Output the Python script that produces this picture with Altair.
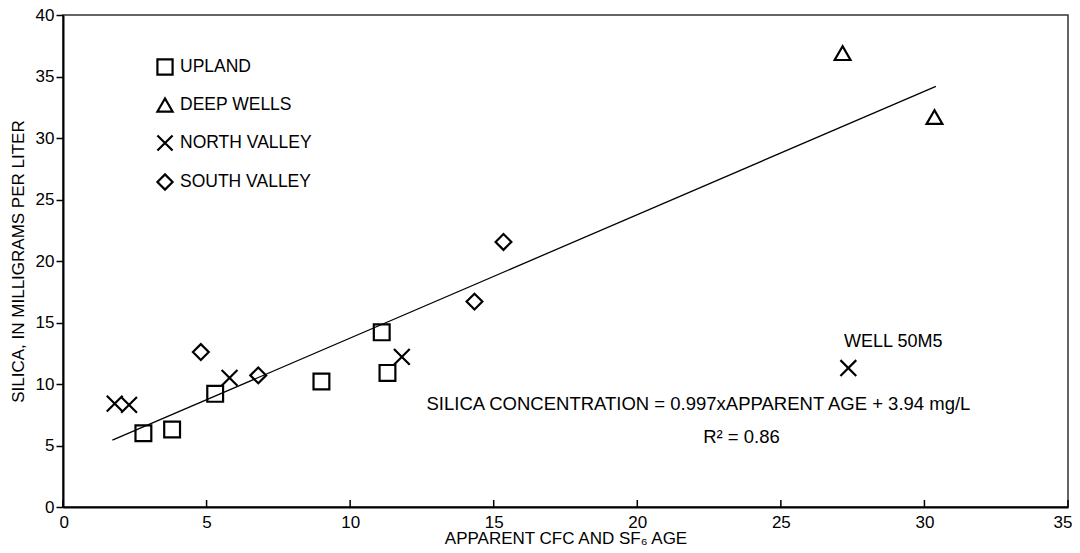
import altair as alt
import pandas as pd

# ---- data ----
groups = ["UPLAND", "DEEP WELLS", "NORTH VALLEY", "SOUTH VALLEY"]
shapes = ["square", "triangle-up", "M-1,-1L1,1M-1,1L1,-1", "diamond"]

upland_x = [2.8, 3.8, 5.3, 9.0, 11.1, 11.3]
upland_y = [6.0, 6.3, 9.2, 10.2, 14.2, 10.9]
deep_x = [27.15, 30.35]
deep_y = [36.9, 31.7]
north_x = [1.8, 2.3, 5.8, 11.8, 27.35]
north_y = [8.4, 8.3, 10.5, 12.2, 11.3]
south_x = [4.8, 6.8, 14.33, 15.34]
south_y = [12.6, 10.7, 16.7, 21.55]

fit_x = [1.72, 30.4]
fit_y = [5.43, 34.2]

x_ticks = [0, 5, 10, 15, 20, 25, 30, 35]
y_ticks = [0, 5, 10, 15, 20, 25, 30, 35, 40]

ann_text = ["WELL 50M5", "SILICA CONCENTRATION = 0.997xAPPARENT AGE + 3.94 mg/L", "R² = 0.86"]
ann_x = [27.2, 22.13, 23.63]
ann_y = [13.4, 8.4, 5.7]
ann_align = ["left", "center", "center"]

FONT = "Liberation Sans"
FS = 17

rows = []
for g, xs, ys in [("UPLAND", upland_x, upland_y), ("DEEP WELLS", deep_x, deep_y),
                  ("NORTH VALLEY", north_x, north_y), ("SOUTH VALLEY", south_x, south_y)]:
    for a, b in zip(xs, ys):
        rows.append({"age": a, "silica": b, "group": g})
pts = pd.DataFrame(rows)
fit = pd.DataFrame({"age": fit_x, "silica": fit_y})
ticks = pd.DataFrame({"age": x_ticks})
ann = pd.DataFrame({"age": ann_x, "silica": ann_y, "label": ann_text, "align": ann_align})

xscale = alt.Scale(domain=[0, 35], nice=False, zero=False)
yscale = alt.Scale(domain=[0, 40], nice=False, zero=False)

xaxis = alt.Axis(values=x_ticks, ticks=False, grid=False, domainWidth=2, domainColor="black",
                 labelPadding=7, title="APPARENT CFC AND SF₆ AGE", titlePadding=0,
                 labelFlush=True, labelFlushOffset=4,
                 labelFont=FONT, labelFontSize=FS, labelColor="black",
                 titleFont=FONT, titleFontSize=FS, titleFontWeight="normal", titleColor="black")
yaxis = alt.Axis(values=y_ticks, tickSize=7, tickWidth=1.5, tickColor="black", grid=False,
                 domainWidth=2, domainColor="black", labelPadding=2,
                 title="SILICA, IN MILLIGRAMS PER LITER", titlePadding=8, labelFlush=False,
                 labelFont=FONT, labelFontSize=FS, labelColor="black",
                 titleFont=FONT, titleFontSize=FS, titleFontWeight="normal", titleColor="black")

points = alt.Chart(pts).mark_point(filled=False, color="black", strokeWidth=2.2, size=250,
                                   opacity=1).encode(
    x=alt.X("age:Q", scale=xscale, axis=xaxis),
    y=alt.Y("silica:Q", scale=yscale, axis=yaxis),
    shape=alt.Shape("group:N", scale=alt.Scale(domain=groups, range=shapes),
                    legend=alt.Legend(orient="none", legendX=93, legendY=43, title=None,
                                      padding=0, rowPadding=15, labelOffset=6,
                                      labelFont=FONT, labelFontSize=17.5, labelColor="black",
                                      symbolSize=230, symbolStrokeWidth=2.2,
                                      symbolStrokeColor="black", symbolFillColor="transparent")),
)

line = alt.Chart(fit).mark_line(color="black", strokeWidth=1.3).encode(
    x=alt.X("age:Q", scale=xscale), y=alt.Y("silica:Q", scale=yscale))

xt = alt.Chart(ticks).mark_rule(color="black", strokeWidth=1.5).encode(
    x=alt.X("age:Q", scale=xscale), y=alt.value(485), y2=alt.value(492))

txt_left = alt.Chart(ann[ann["align"] == "left"]).mark_text(
    align="left", baseline="middle", font=FONT, fontSize=18, color="black").encode(
    x=alt.X("age:Q", scale=xscale), y=alt.Y("silica:Q", scale=yscale), text="label:N")
txt_center = alt.Chart(ann[ann["align"] == "center"]).mark_text(
    align="center", baseline="middle", font=FONT, fontSize=18.5, color="black").encode(
    x=alt.X("age:Q", scale=xscale), y=alt.Y("silica:Q", scale=yscale), text="label:N")

chart = alt.layer(line, points, xt, txt_left, txt_center).properties(
    width=1005, height=492, autosize="none",
    padding={"left": 55, "top": 7, "right": 4, "bottom": 38},
).configure(background="white").configure_view(stroke="#333", strokeWidth=1.5)

chart.save("out.html", embed_options={"renderer": "svg", "actions": False})
